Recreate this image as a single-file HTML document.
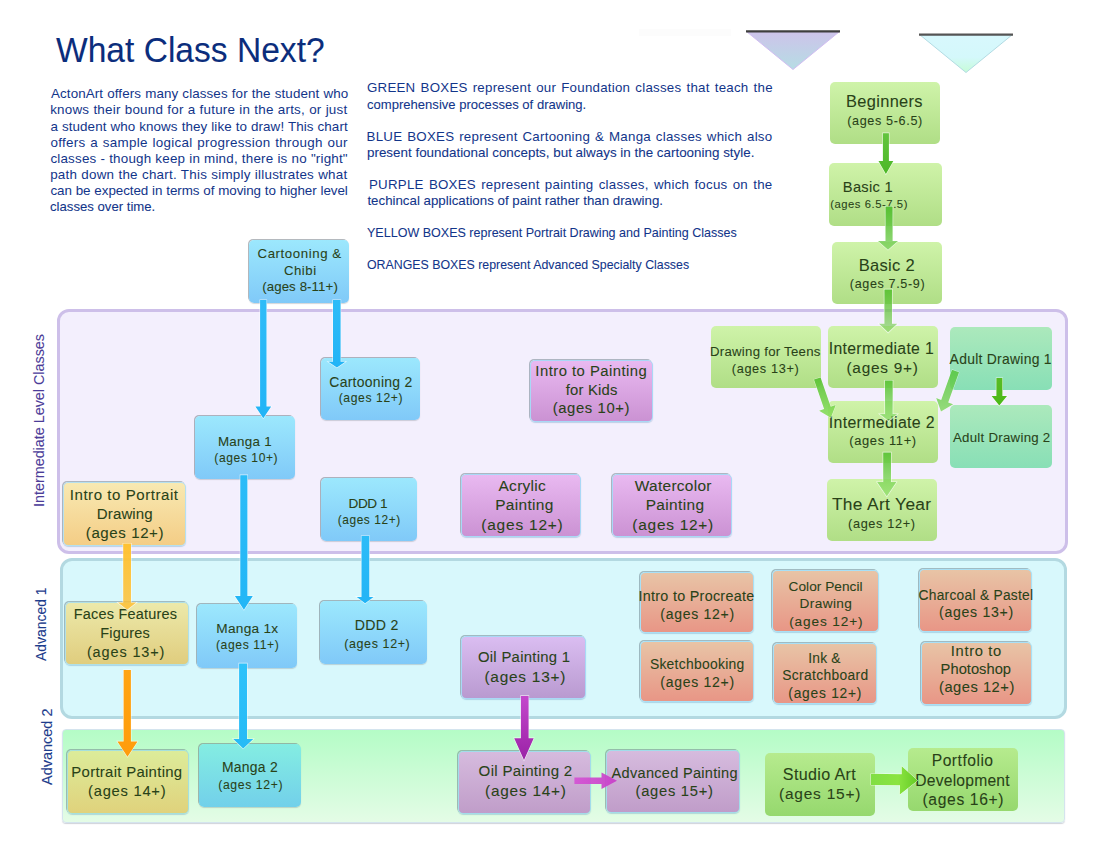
<!DOCTYPE html><html><head><meta charset="utf-8"><style>
html,body{margin:0;padding:0;background:#fff;width:1100px;height:850px;overflow:hidden}
body{position:relative;font-family:"Liberation Sans",sans-serif}
.t{position:absolute;white-space:nowrap;line-height:1;transform-origin:0 0;-webkit-text-stroke:0.08px currentColor}
.b{position:absolute;box-sizing:border-box;border-radius:5px}
.p{position:absolute;box-sizing:border-box}
.j{position:absolute;white-space:nowrap;line-height:1;text-align:justify;text-align-last:justify;transform-origin:0 0;letter-spacing:0.25px}
</style></head><body>
<div class="p" style="left:639px;top:29px;width:92px;height:7px;background:#fcfcfc"></div>
<svg style="position:absolute;left:0;top:0" width="1100" height="850">
<defs>
<linearGradient id="tg1" x1="0" y1="0" x2="0" y2="1"><stop offset="0" stop-color="#cdc3ea"/><stop offset="1" stop-color="#b6dde4"/></linearGradient>
<linearGradient id="tg2" x1="0" y1="0" x2="0" y2="1"><stop offset="0" stop-color="#d8f8fd"/><stop offset="0.6" stop-color="#d4f8fb"/><stop offset="1" stop-color="#c6fcd6"/></linearGradient>
</defs>
<polygon points="746.5,31.5 839.5,31.5 793,69.5" fill="url(#tg1)" stroke="#d2bdf2" stroke-width="1"/>
<line x1="746" y1="31.4" x2="840" y2="31.4" stroke="#3e3e3e" stroke-width="2.2"/>
<polygon points="919.5,34.5 1012.5,34.5 966,72.5" fill="url(#tg2)" stroke="#b2dbe3" stroke-width="1"/>
<line x1="919" y1="34.6" x2="1013" y2="34.6" stroke="#555" stroke-width="2.2"/>
</svg>
<div class="t" style="left:56.23px;top:33.30px;font-size:34.50px;color:#0b2d7c;transform:scaleX(0.9730);">What Class Next?</div>
<div class="j" style="left:51.00px;top:87.42px;width:297.30px;font-size:13.40px;color:#12358a;letter-spacing:0.100px">ActonArt offers many classes for the student who</div>
<div class="j" style="left:50.13px;top:103.45px;width:297.30px;font-size:13.40px;color:#12358a;letter-spacing:0.236px">knows their bound for a future in the arts, or just</div>
<div class="j" style="left:50.46px;top:119.51px;width:297.30px;font-size:13.40px;color:#12358a;letter-spacing:0.083px">a student who knows they like to draw! This chart</div>
<div class="j" style="left:50.46px;top:135.56px;width:297.30px;font-size:13.40px;color:#12358a;letter-spacing:0.300px">offers a sample logical progression through our</div>
<div class="j" style="left:50.46px;top:151.61px;width:297.30px;font-size:13.40px;color:#12358a;letter-spacing:0.184px">classes - though keep in mind, there is no &quot;right&quot;</div>
<div class="j" style="left:50.13px;top:167.67px;width:297.30px;font-size:13.40px;color:#12358a;letter-spacing:0.235px">path down the chart. This simply illustrates what</div>
<div class="j" style="left:50.46px;top:183.70px;width:297.30px;font-size:13.40px;color:#12358a;letter-spacing:-0.058px">can be expected in terms of moving to higher level</div>
<div class="t" style="left:50.47px;top:199.76px;font-size:13.40px;color:#12358a;transform:scaleX(0.9824);">classes over time.</div>
<div class="j" style="left:366.94px;top:81.30px;width:405.90px;font-size:13.30px;color:#12358a">GREEN BOXES represent our Foundation classes that teach the</div>
<div class="t" style="left:367.08px;top:97.50px;font-size:13.30px;color:#12358a;transform:scaleX(0.9823);">comprehensive processes of drawing.</div>
<div class="j" style="left:366.54px;top:129.50px;width:405.90px;font-size:13.30px;color:#12358a">BLUE BOXES represent Cartooning &amp; Manga classes which also</div>
<div class="t" style="left:366.73px;top:145.50px;font-size:13.30px;color:#12358a;transform:scaleX(1.0079);">present foundational concepts, but always in the cartooning style.</div>
<div class="j" style="left:368.94px;top:177.50px;width:403.50px;font-size:13.30px;color:#12358a">PURPLE BOXES represent painting classes, which focus on the</div>
<div class="t" style="left:367.40px;top:193.50px;font-size:13.30px;color:#12358a;">techincal applications of paint rather than drawing.</div>
<div class="t" style="left:367.29px;top:225.71px;font-size:13.30px;color:#12358a;transform:scaleX(0.9422);">YELLOW BOXES represent Portrait Drawing and Painting Classes</div>
<div class="t" style="left:367.04px;top:257.60px;font-size:13.30px;color:#12358a;transform:scaleX(0.9292);">ORANGES BOXES represent Advanced Specialty Classes</div>
<div class="p" style="left:57px;top:309px;width:1010.5px;height:244.5px;border:3.5px solid #cdbfe9;background:#f3effd;border-radius:12px"></div>
<div class="p" style="left:59.5px;top:557.5px;width:1007.5px;height:161px;border:3.5px solid #b3d9e1;background:#d8f8fc;border-radius:12px"></div>
<div class="p" style="left:62.3px;top:729px;width:1002.5px;height:93.7px;border:1px solid #d4e4ee;background:linear-gradient(#b4fcc6,#e4fce6);border-radius:4px;box-shadow:0 1px 1px rgba(120,130,150,.35)"></div>
<div class="t" style="left:32.46px;top:507.19px;font-size:14.35px;color:#4b3c98;transform:rotate(-90deg)">Intermediate Level Classes</div>
<div class="t" style="left:35.00px;top:660.60px;font-size:13.94px;color:#1d3c8c;transform:rotate(-90deg)">Advanced 1</div>
<div class="t" style="left:39.74px;top:785.10px;font-size:14.49px;color:#1d3c8c;transform:rotate(-90deg)">Advanced 2</div>
<div class="b" style="left:830.0px;top:81.5px;width:110.0px;height:62.3px;background:linear-gradient(#cff3a9,#b0de86);"></div>
<div class="t" style="left:846.09px;top:93.41px;font-size:16.40px;color:#294218;letter-spacing:0.328px;">Beginners</div>
<div class="t" style="left:847.24px;top:114.70px;font-size:12.63px;color:#294218;letter-spacing:0.631px;">(ages 5-6.5)</div>
<div class="b" style="left:828.5px;top:162.6px;width:113.5px;height:63.0px;background:linear-gradient(#cff3a9,#b0de86);"></div>
<div class="t" style="left:842.83px;top:179.81px;font-size:14.66px;color:#294218;letter-spacing:0.293px;">Basic 1</div>
<div class="t" style="left:830.13px;top:198.62px;font-size:11.24px;color:#294218;letter-spacing:0.562px;">(ages 6.5-7.5)</div>
<div class="b" style="left:832.0px;top:241.8px;width:110.0px;height:62.6px;background:linear-gradient(#cff3a9,#b0de86);"></div>
<div class="t" style="left:858.68px;top:256.91px;font-size:16.51px;color:#294218;letter-spacing:0.330px;">Basic 2</div>
<div class="t" style="left:849.85px;top:277.61px;font-size:12.58px;color:#294218;letter-spacing:0.629px;">(ages 7.5-9)</div>
<div class="b" style="left:249.3px;top:239.9px;width:99.5px;height:63.5px;background:linear-gradient(#9ce8fd,#80c9f8);box-shadow:-1px -1px 0.6px rgba(105,115,125,.5),0 1px 1px rgba(110,120,130,.3);"></div>
<div class="t" style="left:257.54px;top:246.81px;font-size:13.24px;color:#294218;letter-spacing:0.583px;">Cartooning &amp;</div>
<div class="t" style="left:283.94px;top:263.70px;font-size:13.24px;color:#294218;letter-spacing:0.501px;">Chibi</div>
<div class="t" style="left:262.21px;top:279.70px;font-size:13.24px;color:#294218;letter-spacing:0.108px;">(ages 8-11+)</div>
<div class="b" style="left:320.6px;top:357.5px;width:99.5px;height:62.6px;background:linear-gradient(#9ce8fd,#80c9f8);box-shadow:-1px -1px 0.6px rgba(105,115,125,.5),0 1px 1px rgba(110,120,130,.3);"></div>
<div class="t" style="left:329.30px;top:375.50px;font-size:13.96px;color:#294218;letter-spacing:0.279px;">Cartooning 2</div>
<div class="t" style="left:338.67px;top:391.80px;font-size:12.15px;color:#294218;letter-spacing:0.608px;">(ages 12+)</div>
<div class="b" style="left:195.4px;top:416.0px;width:100.0px;height:63.2px;background:linear-gradient(#9ce8fd,#80c9f8);box-shadow:-1px -1px 0.6px rgba(105,115,125,.5),0 1px 1px rgba(110,120,130,.3);"></div>
<div class="t" style="left:217.93px;top:434.61px;font-size:13.38px;color:#294218;letter-spacing:0.268px;">Manga 1</div>
<div class="t" style="left:214.28px;top:451.50px;font-size:12.05px;color:#294218;letter-spacing:0.603px;">(ages 10+)</div>
<div class="b" style="left:530.0px;top:359.6px;width:123.2px;height:62.8px;background:linear-gradient(#e9b9f1,#cb92d3);border:1.5px solid #a9d8f6;box-shadow:-1px -1px 0 rgba(105,125,135,.5),0 1px 1px rgba(90,150,190,.35);"></div>
<div class="t" style="left:535.37px;top:364.00px;font-size:14.83px;color:#294218;letter-spacing:0.472px;">Intro to Painting</div>
<div class="t" style="left:565.68px;top:382.50px;font-size:14.83px;color:#294218;letter-spacing:0.212px;">for Kids</div>
<div class="t" style="left:552.71px;top:401.00px;font-size:14.83px;color:#294218;letter-spacing:0.616px;">(ages 10+)</div>
<div class="b" style="left:711.0px;top:325.5px;width:110.0px;height:62.7px;background:linear-gradient(#cff3a9,#b0de86);"></div>
<div class="t" style="left:709.94px;top:345.20px;font-size:13.22px;color:#294218;letter-spacing:0.264px;">Drawing for Teens</div>
<div class="t" style="left:731.84px;top:362.61px;font-size:12.72px;color:#294218;letter-spacing:0.636px;">(ages 13+)</div>
<div class="b" style="left:827.7px;top:326.0px;width:110.3px;height:62.3px;background:linear-gradient(#cff3a9,#b0de86);"></div>
<div class="t" style="left:828.78px;top:340.81px;font-size:15.78px;color:#294218;letter-spacing:0.316px;">Intermediate 1</div>
<div class="t" style="left:846.48px;top:359.61px;font-size:15.36px;color:#294218;letter-spacing:0.768px;">(ages 9+)</div>
<div class="b" style="left:950.0px;top:327.0px;width:102.4px;height:62.6px;background:linear-gradient(#ace9bc,#88dfb6);"></div>
<div class="t" style="left:949.60px;top:353.01px;font-size:13.90px;color:#294218;letter-spacing:0.278px;">Adult Drawing 1</div>
<div class="b" style="left:828.0px;top:401.0px;width:110.0px;height:62.3px;background:linear-gradient(#cff3a9,#b0de86);"></div>
<div class="t" style="left:828.77px;top:415.20px;font-size:15.91px;color:#294218;letter-spacing:0.318px;">Intermediate 2</div>
<div class="t" style="left:849.23px;top:435.00px;font-size:12.91px;color:#294218;letter-spacing:0.645px;">(ages 11+)</div>
<div class="b" style="left:950.0px;top:405.0px;width:102.4px;height:63.4px;background:linear-gradient(#ace9bc,#88dfb6);"></div>
<div class="t" style="left:953.00px;top:431.40px;font-size:13.25px;color:#294218;letter-spacing:0.265px;">Adult Drawing 2</div>
<div class="b" style="left:826.7px;top:478.8px;width:110.0px;height:62.2px;background:linear-gradient(#cff3a9,#b0de86);"></div>
<div class="t" style="left:831.95px;top:496.32px;font-size:17.33px;color:#294218;letter-spacing:0.347px;">The Art Year</div>
<div class="t" style="left:848.04px;top:518.31px;font-size:12.74px;color:#294218;letter-spacing:0.637px;">(ages 12+)</div>
<div class="b" style="left:63.2px;top:482.0px;width:122.8px;height:64.0px;background:linear-gradient(#f8e9b2,#f4cd86);border:1.5px solid #b6e0ee;box-shadow:-1px -1px 0 rgba(105,125,135,.5),0 1px 1px rgba(90,150,190,.35);"></div>
<div class="t" style="left:69.74px;top:487.21px;font-size:15.06px;color:#294218;letter-spacing:0.550px;">Intro to Portrait</div>
<div class="t" style="left:96.80px;top:506.01px;font-size:15.06px;color:#294218;letter-spacing:0.116px;">Drawing</div>
<div class="t" style="left:85.80px;top:524.90px;font-size:15.06px;color:#294218;letter-spacing:0.595px;">(ages 12+)</div>
<div class="b" style="left:320.7px;top:477.5px;width:96.4px;height:63.2px;background:linear-gradient(#9ce8fd,#80c9f8);box-shadow:-1px -1px 0.6px rgba(105,115,125,.5),0 1px 1px rgba(110,120,130,.3);"></div>
<div class="t" style="left:348.61px;top:497.31px;font-size:13.60px;color:#294218;letter-spacing:-0.475px;">DDD 1</div>
<div class="t" style="left:337.69px;top:515.10px;font-size:11.88px;color:#294218;letter-spacing:0.594px;">(ages 12+)</div>
<div class="b" style="left:461.0px;top:473.6px;width:120.4px;height:63.3px;background:linear-gradient(#e9b9f1,#cb92d3);border:1.5px solid #a9d8f6;box-shadow:-1px -1px 0 rgba(105,125,135,.5),0 1px 1px rgba(90,150,190,.35);"></div>
<div class="t" style="left:481.27px;top:516.51px;font-size:15.47px;color:#294218;letter-spacing:0.791px;">(ages 12+)</div>
<div class="t" style="left:498.50px;top:478.31px;font-size:15.47px;color:#294218;letter-spacing:0.287px;">Acrylic</div>
<div class="t" style="left:495.16px;top:497.41px;font-size:15.47px;color:#294218;letter-spacing:0.316px;">Painting</div>
<div class="b" style="left:612.3px;top:473.6px;width:120.0px;height:63.3px;background:linear-gradient(#e9b9f1,#cb92d3);border:1.5px solid #a9d8f6;box-shadow:-1px -1px 0 rgba(105,125,135,.5),0 1px 1px rgba(90,150,190,.35);"></div>
<div class="t" style="left:632.37px;top:516.50px;font-size:15.44px;color:#294218;letter-spacing:0.740px;">(ages 12+)</div>
<div class="t" style="left:634.82px;top:478.30px;font-size:15.44px;color:#294218;letter-spacing:0.285px;">Watercolor</div>
<div class="t" style="left:645.66px;top:497.41px;font-size:15.44px;color:#294218;letter-spacing:0.360px;">Painting</div>
<div class="b" style="left:64.7px;top:601.5px;width:124.3px;height:63.3px;background:linear-gradient(#ece9aa,#e0cd7e);border:1.5px solid #b0e0e6;box-shadow:-1px -1px 0 rgba(105,125,135,.5),0 1px 1px rgba(90,150,190,.35);"></div>
<div class="t" style="left:73.64px;top:607.21px;font-size:14.47px;color:#294218;letter-spacing:0.223px;">Faces Features</div>
<div class="t" style="left:100.34px;top:626.10px;font-size:14.47px;color:#294218;letter-spacing:0.203px;">Figures</div>
<div class="t" style="left:86.93px;top:645.01px;font-size:14.47px;color:#294218;letter-spacing:0.881px;">(ages 13+)</div>
<div class="b" style="left:197.0px;top:603.8px;width:100.0px;height:64.0px;background:linear-gradient(#9ce8fd,#80c9f8);box-shadow:-1px -1px 0.6px rgba(105,115,125,.5),0 1px 1px rgba(110,120,130,.3);"></div>
<div class="t" style="left:216.31px;top:622.41px;font-size:13.67px;color:#294218;letter-spacing:0.273px;">Manga 1x</div>
<div class="t" style="left:215.97px;top:639.21px;font-size:12.13px;color:#294218;letter-spacing:0.607px;">(ages 11+)</div>
<div class="b" style="left:319.6px;top:601.3px;width:107.2px;height:63.2px;background:linear-gradient(#9ce8fd,#80c9f8);box-shadow:-1px -1px 0.6px rgba(105,115,125,.5),0 1px 1px rgba(110,120,130,.3);"></div>
<div class="t" style="left:354.77px;top:618.40px;font-size:14.14px;color:#294218;letter-spacing:0.283px;">DDD 2</div>
<div class="t" style="left:344.25px;top:637.61px;font-size:12.46px;color:#294218;letter-spacing:0.623px;">(ages 12+)</div>
<div class="b" style="left:461.0px;top:636.0px;width:124.8px;height:62.6px;background:linear-gradient(#dabdf1,#b99ad0);border:1.5px solid #a9d8f6;box-shadow:-1px -1px 0 rgba(105,125,135,.5),0 1px 1px rgba(90,150,190,.35);"></div>
<div class="t" style="left:477.93px;top:650.41px;font-size:14.85px;color:#294218;letter-spacing:0.297px;">Oil Painting 1</div>
<div class="t" style="left:484.48px;top:669.30px;font-size:15.40px;color:#294218;letter-spacing:0.770px;">(ages 13+)</div>
<div class="b" style="left:639.8px;top:571.5px;width:114.6px;height:61.8px;background:linear-gradient(#e8c4a6,#e89686);border:1.5px solid #a8e0f6;box-shadow:-1px -1px 0 rgba(105,125,135,.5),0 1px 1px rgba(90,150,190,.35);"></div>
<div class="t" style="left:638.51px;top:588.71px;font-size:14.35px;color:#294218;letter-spacing:0.287px;">Intro to Procreate</div>
<div class="t" style="left:660.36px;top:606.51px;font-size:14.02px;color:#294218;letter-spacing:0.701px;">(ages 12+)</div>
<div class="b" style="left:639.8px;top:641.0px;width:114.6px;height:61.0px;background:linear-gradient(#e8c4a6,#e89686);border:1.5px solid #a8e0f6;box-shadow:-1px -1px 0 rgba(105,125,135,.5),0 1px 1px rgba(90,150,190,.35);"></div>
<div class="t" style="left:649.88px;top:658.41px;font-size:13.89px;color:#294218;letter-spacing:0.278px;">Sketchbooking</div>
<div class="t" style="left:660.36px;top:675.21px;font-size:14.02px;color:#294218;letter-spacing:0.701px;">(ages 12+)</div>
<div class="b" style="left:772.2px;top:570.2px;width:106.8px;height:62.3px;background:linear-gradient(#e8c4a6,#e89686);border:1.5px solid #a8e0f6;box-shadow:-1px -1px 0 rgba(105,125,135,.5),0 1px 1px rgba(90,150,190,.35);"></div>
<div class="t" style="left:788.52px;top:579.51px;font-size:13.66px;color:#294218;letter-spacing:0.041px;">Color Pencil</div>
<div class="t" style="left:799.61px;top:597.31px;font-size:13.66px;color:#294218;letter-spacing:0.370px;">Drawing</div>
<div class="t" style="left:789.18px;top:615.22px;font-size:13.66px;color:#294218;letter-spacing:0.857px;">(ages 12+)</div>
<div class="b" style="left:772.7px;top:642.7px;width:104.8px;height:61.8px;background:linear-gradient(#e8c4a6,#e89686);border:1.5px solid #a8e0f6;box-shadow:-1px -1px 0 rgba(105,125,135,.5),0 1px 1px rgba(90,150,190,.35);"></div>
<div class="t" style="left:782.18px;top:669.41px;font-size:13.80px;color:#294218;letter-spacing:0.362px;">Scratchboard</div>
<div class="t" style="left:808.36px;top:652.00px;font-size:13.80px;color:#294218;letter-spacing:0.139px;">Ink &amp;</div>
<div class="t" style="left:788.37px;top:687.21px;font-size:13.80px;color:#294218;letter-spacing:0.739px;">(ages 12+)</div>
<div class="b" style="left:919.2px;top:569.4px;width:113.0px;height:62.6px;background:linear-gradient(#e8c4a6,#e89686);border:1.5px solid #a8e0f6;box-shadow:-1px -1px 0 rgba(105,125,135,.5),0 1px 1px rgba(90,150,190,.35);"></div>
<div class="t" style="left:918.51px;top:588.51px;font-size:13.77px;color:#294218;letter-spacing:0.275px;">Charcoal &amp; Pastel</div>
<div class="t" style="left:939.05px;top:605.40px;font-size:14.12px;color:#294218;letter-spacing:0.706px;">(ages 13+)</div>
<div class="b" style="left:920.5px;top:642.0px;width:111.7px;height:62.6px;background:linear-gradient(#e8c4a6,#e89686);border:1.5px solid #a8e0f6;box-shadow:-1px -1px 0 rgba(105,125,135,.5),0 1px 1px rgba(90,150,190,.35);"></div>
<div class="t" style="left:950.78px;top:644.41px;font-size:14.71px;color:#294218;letter-spacing:0.679px;">Intro to</div>
<div class="t" style="left:940.62px;top:661.91px;font-size:14.71px;color:#294218;letter-spacing:0.016px;">Photoshop</div>
<div class="t" style="left:939.02px;top:679.81px;font-size:14.71px;color:#294218;letter-spacing:0.507px;">(ages 12+)</div>
<div class="b" style="left:66.5px;top:749.6px;width:122.5px;height:64.0px;background:linear-gradient(#dcec9a,#e0d27c);border:1.5px solid #a6e0dc;box-shadow:-1px -1px 0 rgba(105,125,135,.5),0 1px 1px rgba(90,150,190,.35);"></div>
<div class="t" style="left:71.31px;top:764.80px;font-size:14.91px;color:#294218;letter-spacing:0.298px;">Portrait Painting</div>
<div class="t" style="left:88.12px;top:783.71px;font-size:14.74px;color:#294218;letter-spacing:0.737px;">(ages 14+)</div>
<div class="b" style="left:198.5px;top:743.7px;width:102.5px;height:63.2px;background:linear-gradient(#84ede2,#72d0ea);box-shadow:-1px -1px 0.6px rgba(105,115,125,.5),0 1px 1px rgba(110,120,130,.3);"></div>
<div class="t" style="left:221.89px;top:761.10px;font-size:13.92px;color:#294218;letter-spacing:0.278px;">Manga 2</div>
<div class="t" style="left:218.27px;top:778.71px;font-size:12.21px;color:#294218;letter-spacing:0.611px;">(ages 12+)</div>
<div class="b" style="left:458.0px;top:751.3px;width:132.7px;height:63.0px;background:linear-gradient(#d6bbde,#c09dc9);border:1.5px solid #a2dcea;box-shadow:-1px -1px 0 rgba(105,125,135,.5),0 1px 1px rgba(90,150,190,.35);"></div>
<div class="t" style="left:478.62px;top:763.02px;font-size:15.09px;color:#294218;letter-spacing:0.302px;">Oil Painting 2</div>
<div class="t" style="left:485.08px;top:782.82px;font-size:15.38px;color:#294218;letter-spacing:0.769px;">(ages 14+)</div>
<div class="b" style="left:605.8px;top:750.4px;width:133.8px;height:62.8px;background:linear-gradient(#d6bbde,#c09dc9);border:1.5px solid #a2dcea;box-shadow:-1px -1px 0 rgba(105,125,135,.5),0 1px 1px rgba(90,150,190,.35);"></div>
<div class="t" style="left:611.60px;top:766.30px;font-size:14.55px;color:#294218;letter-spacing:0.291px;">Advanced Painting</div>
<div class="t" style="left:635.52px;top:784.41px;font-size:14.72px;color:#294218;letter-spacing:0.736px;">(ages 15+)</div>
<div class="b" style="left:765.0px;top:752.5px;width:110.4px;height:63.0px;background:linear-gradient(#b6eb8e,#96d86e);"></div>
<div class="t" style="left:782.87px;top:765.50px;font-size:16.13px;color:#294218;letter-spacing:0.323px;">Studio Art</div>
<div class="t" style="left:779.07px;top:786.01px;font-size:15.48px;color:#294218;letter-spacing:0.774px;">(ages 15+)</div>
<div class="b" style="left:908.4px;top:748.0px;width:110.1px;height:63.0px;background:linear-gradient(#b6eb8e,#96d86e);"></div>
<div class="t" style="left:915.25px;top:772.51px;font-size:15.65px;color:#294218;letter-spacing:0.217px;">Development</div>
<div class="t" style="left:931.75px;top:753.01px;font-size:15.65px;color:#294218;letter-spacing:0.491px;">Portfolio</div>
<div class="t" style="left:922.46px;top:792.01px;font-size:15.65px;color:#294218;letter-spacing:0.655px;">(ages 16+)</div>
<svg style="position:absolute;left:0;top:0" width="1100" height="850"><defs>
<linearGradient id="g1" gradientUnits="userSpaceOnUse" x1="0" y1="133.2" x2="0" y2="174.1"><stop offset="0" stop-color="#62c43e" stop-opacity="1"/><stop offset="1" stop-color="#4cb826" stop-opacity="1"/></linearGradient>
<linearGradient id="g2" gradientUnits="userSpaceOnUse" x1="0" y1="206.5" x2="0" y2="249.7"><stop offset="0" stop-color="#56c032" stop-opacity="1"/><stop offset="1" stop-color="#7cd05c" stop-opacity="0.8"/></linearGradient>
<linearGradient id="g3" gradientUnits="userSpaceOnUse" x1="0" y1="289.4" x2="0" y2="332.6"><stop offset="0" stop-color="#5ac232" stop-opacity="0.95"/><stop offset="1" stop-color="#7ccc58" stop-opacity="0.6"/></linearGradient>
<linearGradient id="g4" gradientUnits="userSpaceOnUse" x1="0" y1="380.6" x2="0" y2="421.0"><stop offset="0" stop-color="#5cc438" stop-opacity="0.95"/><stop offset="1" stop-color="#80d860" stop-opacity="0.6"/></linearGradient>
<linearGradient id="g5" gradientUnits="userSpaceOnUse" x1="0" y1="452.4" x2="0" y2="496.5"><stop offset="0" stop-color="#5cc438" stop-opacity="0.95"/><stop offset="1" stop-color="#8ede66" stop-opacity="0.7"/></linearGradient>
<linearGradient id="g6" gradientUnits="userSpaceOnUse" x1="0" y1="378.0" x2="0" y2="405.6"><stop offset="0" stop-color="#58bc24" stop-opacity="1"/><stop offset="1" stop-color="#4cb818" stop-opacity="1"/></linearGradient>
<linearGradient id="b1" gradientUnits="userSpaceOnUse" x1="0" y1="300.0" x2="0" y2="418.2"><stop offset="0" stop-color="#2ebcf8" stop-opacity="1"/><stop offset="1" stop-color="#22b4f6" stop-opacity="1"/></linearGradient>
<linearGradient id="b2" gradientUnits="userSpaceOnUse" x1="0" y1="300.0" x2="0" y2="367.6"><stop offset="0" stop-color="#2ebcf8" stop-opacity="1"/><stop offset="1" stop-color="#22b4f6" stop-opacity="1"/></linearGradient>
<linearGradient id="b3" gradientUnits="userSpaceOnUse" x1="0" y1="475.2" x2="0" y2="609.7"><stop offset="0" stop-color="#2cbcf8" stop-opacity="1"/><stop offset="1" stop-color="#22b6f6" stop-opacity="1"/></linearGradient>
<linearGradient id="b4" gradientUnits="userSpaceOnUse" x1="0" y1="663.4" x2="0" y2="748.5"><stop offset="0" stop-color="#2ec2fa" stop-opacity="1"/><stop offset="1" stop-color="#26baf6" stop-opacity="1"/></linearGradient>
<linearGradient id="b5" gradientUnits="userSpaceOnUse" x1="0" y1="536.0" x2="0" y2="603.2"><stop offset="0" stop-color="#2cbcf8" stop-opacity="1"/><stop offset="1" stop-color="#22b4f6" stop-opacity="1"/></linearGradient>
<linearGradient id="o1" gradientUnits="userSpaceOnUse" x1="0" y1="543.5" x2="0" y2="609.7"><stop offset="0" stop-color="#ffc232" stop-opacity="1"/><stop offset="1" stop-color="#ffbe30" stop-opacity="0.8"/></linearGradient>
<linearGradient id="o2" gradientUnits="userSpaceOnUse" x1="0" y1="670.0" x2="0" y2="756.7"><stop offset="0" stop-color="#ffa412" stop-opacity="1"/><stop offset="1" stop-color="#ff9c0c" stop-opacity="1"/></linearGradient>
<linearGradient id="p1" gradientUnits="userSpaceOnUse" x1="0" y1="695.9" x2="0" y2="760.0"><stop offset="0" stop-color="#c448cc" stop-opacity="1"/><stop offset="1" stop-color="#9a22a6" stop-opacity="1"/></linearGradient>
<linearGradient id="ph" gradientUnits="userSpaceOnUse" x1="574" y1="0" x2="617" y2="0"><stop offset="0" stop-color="#d450d4" stop-opacity=".9"/><stop offset="1" stop-color="#c840c8" stop-opacity=".95"/></linearGradient>
<linearGradient id="gh" gradientUnits="userSpaceOnUse" x1="870" y1="0" x2="917" y2="0"><stop offset="0" stop-color="#80de44"/><stop offset="0.6" stop-color="#8ae440"/><stop offset="1" stop-color="#66cc26"/></linearGradient>
<linearGradient id="gd1" gradientUnits="userSpaceOnUse" x1="0" y1="378" x2="0" y2="416"><stop offset="0" stop-color="#58c232"/><stop offset="1" stop-color="#8ade5c"/></linearGradient>
<linearGradient id="gd2" gradientUnits="userSpaceOnUse" x1="0" y1="371" x2="0" y2="412"><stop offset="0" stop-color="#58c640" stop-opacity=".95"/><stop offset="1" stop-color="#86d866" stop-opacity=".95"/></linearGradient>
</defs>
<path d="M882.9 133.2 L888.9 133.2 L888.9 160.9 L893.3 160.9 L885.9 174.1 L878.5 160.9 L882.9 160.9 Z" fill="url(#g1)" stroke="rgba(255,255,255,.7)" stroke-width="1.2" paint-order="stroke"/>
<path d="M885.5 206.5 L892.6 206.5 L892.6 240.9 L898.0 240.9 L888.0 249.7 L878.0 240.9 L885.5 240.9 Z" fill="url(#g2)" stroke="rgba(255,255,255,.7)" stroke-width="1.2" paint-order="stroke"/>
<path d="M884.4 289.4 L892.0 289.4 L892.0 323.8 L897.3 323.8 L888.1 332.6 L879.0 323.8 L884.4 323.8 Z" fill="url(#g3)" stroke="rgba(255,255,255,.7)" stroke-width="1.2" paint-order="stroke"/>
<path d="M885.0 380.6 L892.7 380.6 L892.7 414.0 L897.3 414.0 L888.5 421.0 L879.6 414.0 L885.0 414.0 Z" fill="url(#g4)" stroke="rgba(255,255,255,.7)" stroke-width="1.2" paint-order="stroke"/>
<path d="M883.2 452.4 L891.0 452.4 L891.0 482.0 L896.4 482.0 L886.8 496.5 L877.1 482.0 L883.2 482.0 Z" fill="url(#g5)" stroke="rgba(255,255,255,.7)" stroke-width="1.2" paint-order="stroke"/>
<path d="M996.4 378.0 L1002.4 378.0 L1002.4 396.0 L1007.0 396.0 L999.3 405.6 L991.6 396.0 L996.4 396.0 Z" fill="url(#g6)" stroke="rgba(255,255,255,.7)" stroke-width="1.2" paint-order="stroke"/>
<path d="M260.1 300.0 L266.5 300.0 L266.5 406.5 L271.2 406.5 L263.3 418.2 L255.4 406.5 L260.1 406.5 Z" fill="url(#b1)" stroke="rgba(255,255,255,.7)" stroke-width="1.2" paint-order="stroke"/>
<path d="M333.0 300.0 L340.6 300.0 L340.6 361.8 L345.3 361.8 L336.9 367.6 L328.4 361.8 L333.0 361.8 Z" fill="url(#b2)" stroke="rgba(255,255,255,.7)" stroke-width="1.2" paint-order="stroke"/>
<path d="M240.3 475.2 L247.4 475.2 L247.4 596.0 L252.8 596.0 L243.9 609.7 L234.9 596.0 L240.3 596.0 Z" fill="url(#b3)" stroke="rgba(255,255,255,.7)" stroke-width="1.2" paint-order="stroke"/>
<path d="M239.1 663.4 L247.0 663.4 L247.0 739.0 L253.3 739.0 L243.2 748.5 L233.2 739.0 L239.1 739.0 Z" fill="url(#b4)" stroke="rgba(255,255,255,.7)" stroke-width="1.2" paint-order="stroke"/>
<path d="M361.5 536.0 L369.3 536.0 L369.3 596.9 L373.6 596.9 L365.1 603.2 L356.7 596.9 L361.5 596.9 Z" fill="url(#b5)" stroke="rgba(255,255,255,.7)" stroke-width="1.2" paint-order="stroke"/>
<path d="M123.2 543.5 L131.0 543.5 L131.0 602.6 L136.3 602.6 L127.2 609.7 L118.0 602.6 L123.2 602.6 Z" fill="url(#o1)" stroke="rgba(255,255,255,.7)" stroke-width="1.2" paint-order="stroke"/>
<path d="M123.6 670.0 L130.9 670.0 L130.9 741.4 L137.5 741.4 L127.5 756.7 L117.4 741.4 L123.6 741.4 Z" fill="url(#o2)" stroke="rgba(255,255,255,.7)" stroke-width="1.2" paint-order="stroke"/>
<path d="M520.9 695.9 L528.6 695.9 L528.6 738.2 L533.7 738.2 L524.0 760.0 L514.2 738.2 L520.9 738.2 Z" fill="url(#p1)" stroke="rgba(255,255,255,.7)" stroke-width="1.2" paint-order="stroke"/>
<path d="M574.4 777.5 L601.5 777.5 L601.5 772.5 L617 780.8 L601.5 789 L601.5 784.1 L574.4 784.1 Z" fill="url(#ph)"/>
<path d="M870.8 773.8 L901.7 774.2 L901.7 766.3 L917.6 780.5 L899.8 794.5 L900 785.2 L870.8 784.9 Z" fill="url(#gh)" stroke="rgba(255,255,255,.75)" stroke-width="1" paint-order="stroke"/>
<path d="M814.0 379.6 L824.1 409.0 L819.1 410.7 L830.8 417.8 L835.7 405.0 L830.7 406.7 L820.6 377.4 Z" fill="url(#gd1)" opacity=".9" stroke="rgba(255,255,255,.6)" stroke-width="1" paint-order="stroke"/>
<path d="M952.0 369.7 L941.2 399.9 L936.2 398.1 L941.0 411.5 L953.2 404.2 L948.2 402.4 L959.0 372.3 Z" fill="url(#gd2)" opacity=".9" stroke="rgba(255,255,255,.6)" stroke-width="1" paint-order="stroke"/>
</svg>
</body></html>
